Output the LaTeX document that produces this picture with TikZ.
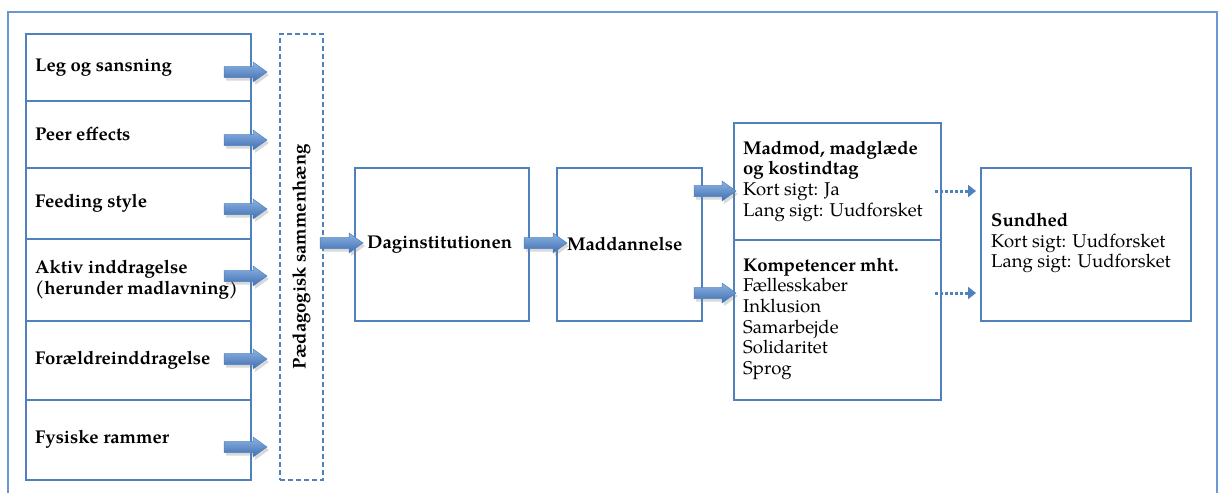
\documentclass[tikz,border=0pt]{standalone}
\usepackage{fontspec}
\setmainfont{texgyrepagella}[Extension=.otf, UprightFont=*-regular, BoldFont=*-bold, ItalicFont=*-italic, BoldItalicFont=*-bolditalic]
\usetikzlibrary{calc,shadows,arrows.meta}
\definecolor{boxblue}{HTML}{4F81BD}
\definecolor{framebl}{HTML}{6A98D0}
\definecolor{arrtop}{HTML}{8DB4E3}
\definecolor{arrbot}{HTML}{3E6DB0}
\newcommand{\myfs}{\fontsize{18.5}{20.6}\selectfont}
\newcommand{\blockarrow}[2]{%
  \path[barrow] let \p1=(#1), \p2=(#2) in
    (\x1,\y1+5.5pt) -- (\x2-14pt,\y1+5.5pt) -- (\x2-14pt,\y1+10pt) -- (\x2,\y1)
    -- (\x2-14pt,\y1-10pt) -- (\x2-14pt,\y1-5.5pt) -- (\x1,\y1-5.5pt) -- cycle;}
\tikzset{
  rowbox/.style={draw=boxblue, line width=1.5pt, minimum width=225pt, inner sep=0pt, anchor=north west},
  plainbox/.style={draw=boxblue, line width=1.5pt, inner sep=0pt, anchor=north west},
  dashbox/.style={draw=boxblue, line width=1.6pt, dash pattern=on 5pt off 3pt, inner sep=0pt, anchor=north west},
  lbl/.style={font=\myfs, align=left, inner sep=0pt, anchor=west},
  barrow/.style={draw=boxblue, line width=0.5pt, top color=arrtop, bottom color=arrbot,
     drop shadow={opacity=0.3, shadow xshift=2pt, shadow yshift=-3pt}},
  dotarrow/.style={draw=boxblue, line width=3pt, dash pattern=on 3pt off 2pt,
     -{Triangle[length=8pt,width=12pt]},
     drop shadow={opacity=0.25, shadow xshift=2pt, shadow yshift=-3pt}},
}
\begin{document}
\begin{tikzpicture}[x=1pt,y=-1pt]
\useasboundingbox (0,0) rectangle (1223,493);
% outer frame
\draw[framebl, line width=2pt] (8,493) -- (8,12) -- (1217,12) -- (1217,493);
% left rows
\node[rowbox, minimum height=67pt] (leg) at (25,33) {};
\node[rowbox, minimum height=67pt] (peer) at (25,100) {};
\node[rowbox, minimum height=71pt] (feed) at (25,167) {};
\node[rowbox, minimum height=82pt] (akt) at (25,238) {};
\node[rowbox, minimum height=79pt] (for) at (25,320) {};
\node[rowbox, minimum height=80pt] (fys) at (25,399) {};
\node[lbl] (tleg) at ($(leg.west)+(10,0)$) {\textbf{Leg og sansning}};
\node[lbl] (tpeer) at ($(peer.west)+(10,0)$) {\textbf{Peer effects}};
\node[lbl] (tfeed) at ($(feed.west)+(10,0)$) {\textbf{Feeding style}};
\node[lbl] (takt) at ($(akt.west)+(10,0)$) {\textbf{Aktiv inddragelse}\\\textbf{(herunder madlavning)}};
\node[lbl] (tfor) at ($(for.west)+(10,0)$) {\textbf{Forældreinddragelse}};
\node[lbl] (tfys) at ($(fys.west)+(10,0)$) {\textbf{Fysiske rammer}};
% dashed box
\node[dashbox, minimum width=43pt, minimum height=446pt] (ped) at (279,33) {};
\node[font=\myfs\bfseries, rotate=90, inner sep=0pt] (tped) at (ped.center) {Pædagogisk sammenhæng};
% middle boxes
\node[plainbox, minimum width=174pt, minimum height=153pt] (dag) at (354,167) {};
\node[lbl] (tdag) at ($(dag.west)+(13,0)$) {\textbf{Daginstitutionen}};
\node[plainbox, minimum width=145pt, minimum height=153pt] (mad) at (556,167) {};
\node[lbl] (tmad) at ($(mad.west)+(11,0)$) {\textbf{Maddannelse}};
\node[plainbox, minimum width=207pt, minimum height=117pt] (modb) at (733,122) {};
\node[lbl] (tmodb) at ($(modb.west)+(10,0)$) {\textbf{Madmod, madglæde}\\\textbf{og kostindtag}\\Kort sigt: Ja\\Lang sigt: Uudforsket};
\node[plainbox, minimum width=207pt, minimum height=160pt] (komp) at (733,239) {};
\node[lbl] (tkomp) at ($(komp.west)+(10,-1)$) {\textbf{Kompetencer mht.}\\Fællesskaber\\Inklusion\\Samarbejde\\Solidaritet\\Sprog};
\node[plainbox, minimum width=210pt, minimum height=153pt] (sund) at (980,167) {};
\node[lbl] (tsund) at ($(sund.west)+(11,-1)$) {\textbf{Sundhed}\\Kort sigt: Uudforsket\\Lang sigt: Uudforsket};
% arrow end points
\coordinate (s1) at (224,72);  \coordinate (e1) at (267,72);
\coordinate (s2) at (224,140); \coordinate (e2) at (267,140);
\coordinate (s3) at (224,209); \coordinate (e3) at (267,209);
\coordinate (s4) at (224,276); \coordinate (e4) at (267,276);
\coordinate (s5) at (224,359); \coordinate (e5) at (267,359);
\coordinate (s6) at (224,447); \coordinate (e6) at (267,447);
\coordinate (s7) at (320,243); \coordinate (e7) at (363,243);
\coordinate (s8) at (524,243); \coordinate (e8) at (567,243);
\coordinate (s9) at (694,191); \coordinate (e9) at (736,191);
\coordinate (s10) at (694,293); \coordinate (e10) at (736,293);
\coordinate (s11) at (935,191); \coordinate (e11) at (976,191);
\coordinate (s12) at (935,293); \coordinate (e12) at (976,293);
\blockarrow{s1}{e1}
\blockarrow{s2}{e2}
\blockarrow{s3}{e3}
\blockarrow{s4}{e4}
\blockarrow{s5}{e5}
\blockarrow{s6}{e6}
\blockarrow{s7}{e7}
\blockarrow{s8}{e8}
\blockarrow{s9}{e9}
\blockarrow{s10}{e10}
\draw[dotarrow] (s11) -- (e11);
\draw[dotarrow] (s12) -- (e12);
\end{tikzpicture}
\end{document}
